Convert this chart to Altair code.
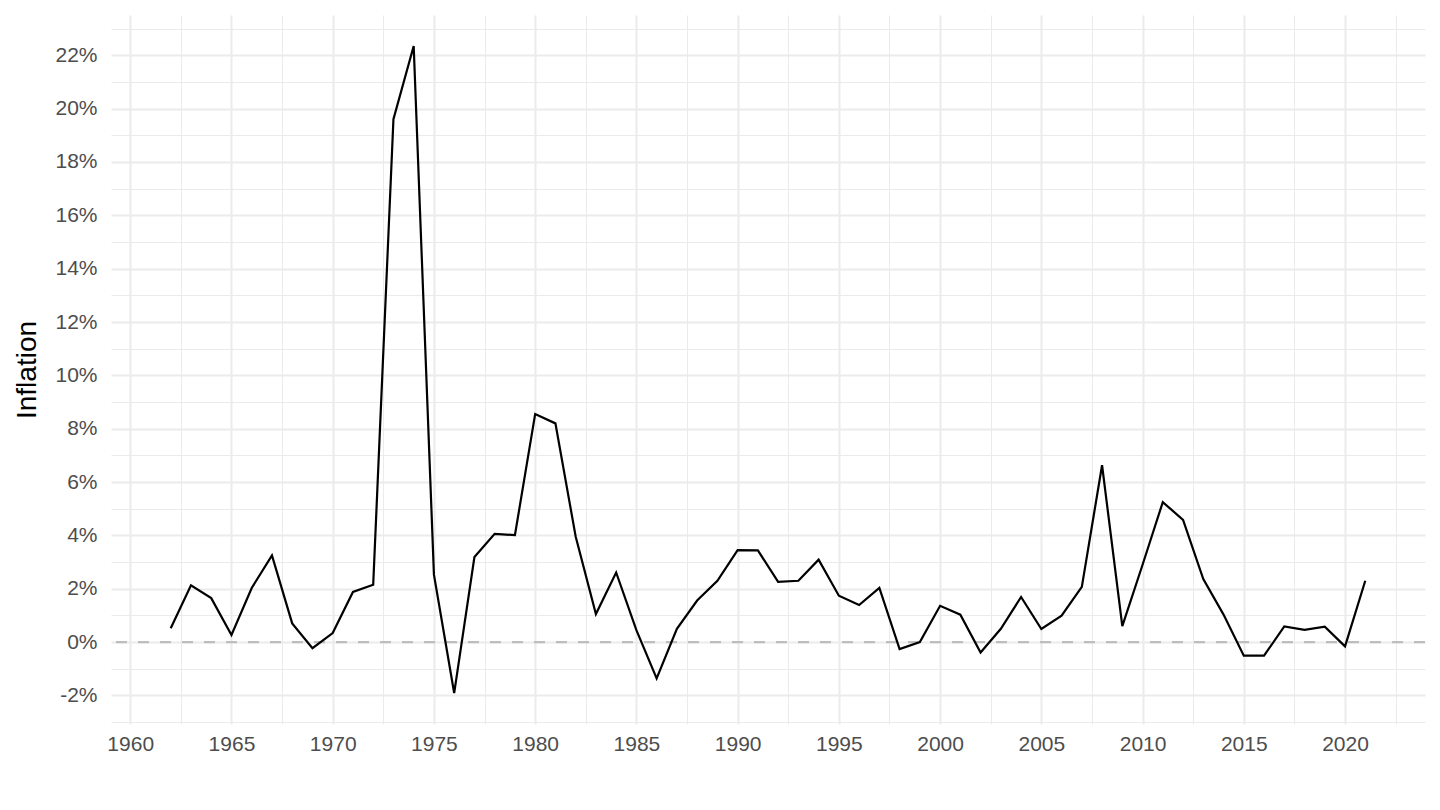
import pandas as pd
import altair as alt

# Annual inflation (%)
years = list(range(1962, 2022))
inflation = [
    0.52, 2.13, 1.65, 0.27, 2.03, 3.25, 0.70, -0.23, 0.34, 1.88,
    2.15, 19.60, 22.35, 2.53, -1.91, 3.19, 4.06, 4.01, 8.55, 8.20,
    3.96, 1.05, 2.61, 0.45, -1.36, 0.50, 1.56, 2.30, 3.45, 3.44,
    2.26, 2.30, 3.09, 1.74, 1.39, 2.03, -0.26, 0.00, 1.36, 1.03,
    -0.39, 0.50, 1.69, 0.49, 0.99, 2.07, 6.63, 0.60, 2.90, 5.25,
    4.58, 2.36, 1.03, -0.51, -0.51, 0.59, 0.46, 0.58, -0.16, 2.30,
]

# grid positions: majors get labels, minors sit halfway between
x_grid = [1960, 1962.5, 1965, 1967.5, 1970, 1972.5, 1975, 1977.5, 1980,
          1982.5, 1985, 1987.5, 1990, 1992.5, 1995, 1997.5, 2000, 2002.5,
          2005, 2007.5, 2010, 2012.5, 2015, 2017.5, 2020, 2022.5]
y_grid = [-3, -2, -1, 0, 1, 2, 3, 4, 5, 6, 7, 8, 9, 10, 11, 12, 13, 14,
          15, 16, 17, 18, 19, 20, 21, 22, 23]
zero_line = [0]

df = pd.DataFrame({"year": years, "inflation": inflation})
ref = pd.DataFrame({"inflation": zero_line})

FONT = "Liberation Sans, Arial, Helvetica, sans-serif"
GRID = "#EBEBEB"

x_axis = alt.Axis(
    values=x_grid,
    title=None,
    labelExpr="datum.value % 5 == 0 ? datum.value : ''",
    labelFlush=False,
    labelOverlap=False,
    labelPadding=9,
    gridColor=GRID,
    gridWidth={"condition": {"test": "datum.value % 5 == 0", "value": 2}, "value": 1},
)
y_axis = alt.Axis(
    values=y_grid,
    title="Inflation",
    labelExpr="datum.value % 2 == 0 ? datum.value + '%' : ''",
    labelOverlap=False,
    labelPadding=14,
    gridColor=GRID,
    gridWidth={"condition": {"test": "datum.value % 2 == 0", "value": 2}, "value": 1},
    titleAngle=270,
    titleX=-76,
    titleY=354.5,
    titleAlign="center",
    titleBaseline="alphabetic",
)

x_scale = alt.Scale(domain=[1959.05, 2023.95], nice=False, zero=False)
y_scale = alt.Scale(domain=[-3.07, 23.51], nice=False, zero=False)

y_enc = alt.Y("inflation:Q", scale=y_scale, axis=y_axis)

zero_rule = alt.Chart(ref).mark_rule(
    color="#BEBEBE", strokeWidth=2.2, strokeDash=[11, 11]
).encode(y=y_enc)

line = alt.Chart(df).mark_line(color="black", strokeWidth=2.2).encode(
    x=alt.X("year:Q", scale=x_scale, axis=x_axis),
    y=y_enc,
)

chart = (
    alt.layer(zero_rule, line)
    .properties(
        width=1314,
        height=709,
        autosize=alt.AutoSizeParams(type="none"),
        padding={"left": 103, "top": 7, "right": 7, "bottom": 60},
    )
    .configure_view(stroke=None)
    .configure_axis(
        domain=False,
        ticks=False,
        labelFont=FONT,
        labelFontSize=21,
        labelColor="#4D4D4D",
        titleFont=FONT,
        titleFontSize=28,
        titleFontWeight="normal",
        titleColor="black",
    )
)

chart.save("out.html", embed_options={"renderer": "svg", "actions": False})
